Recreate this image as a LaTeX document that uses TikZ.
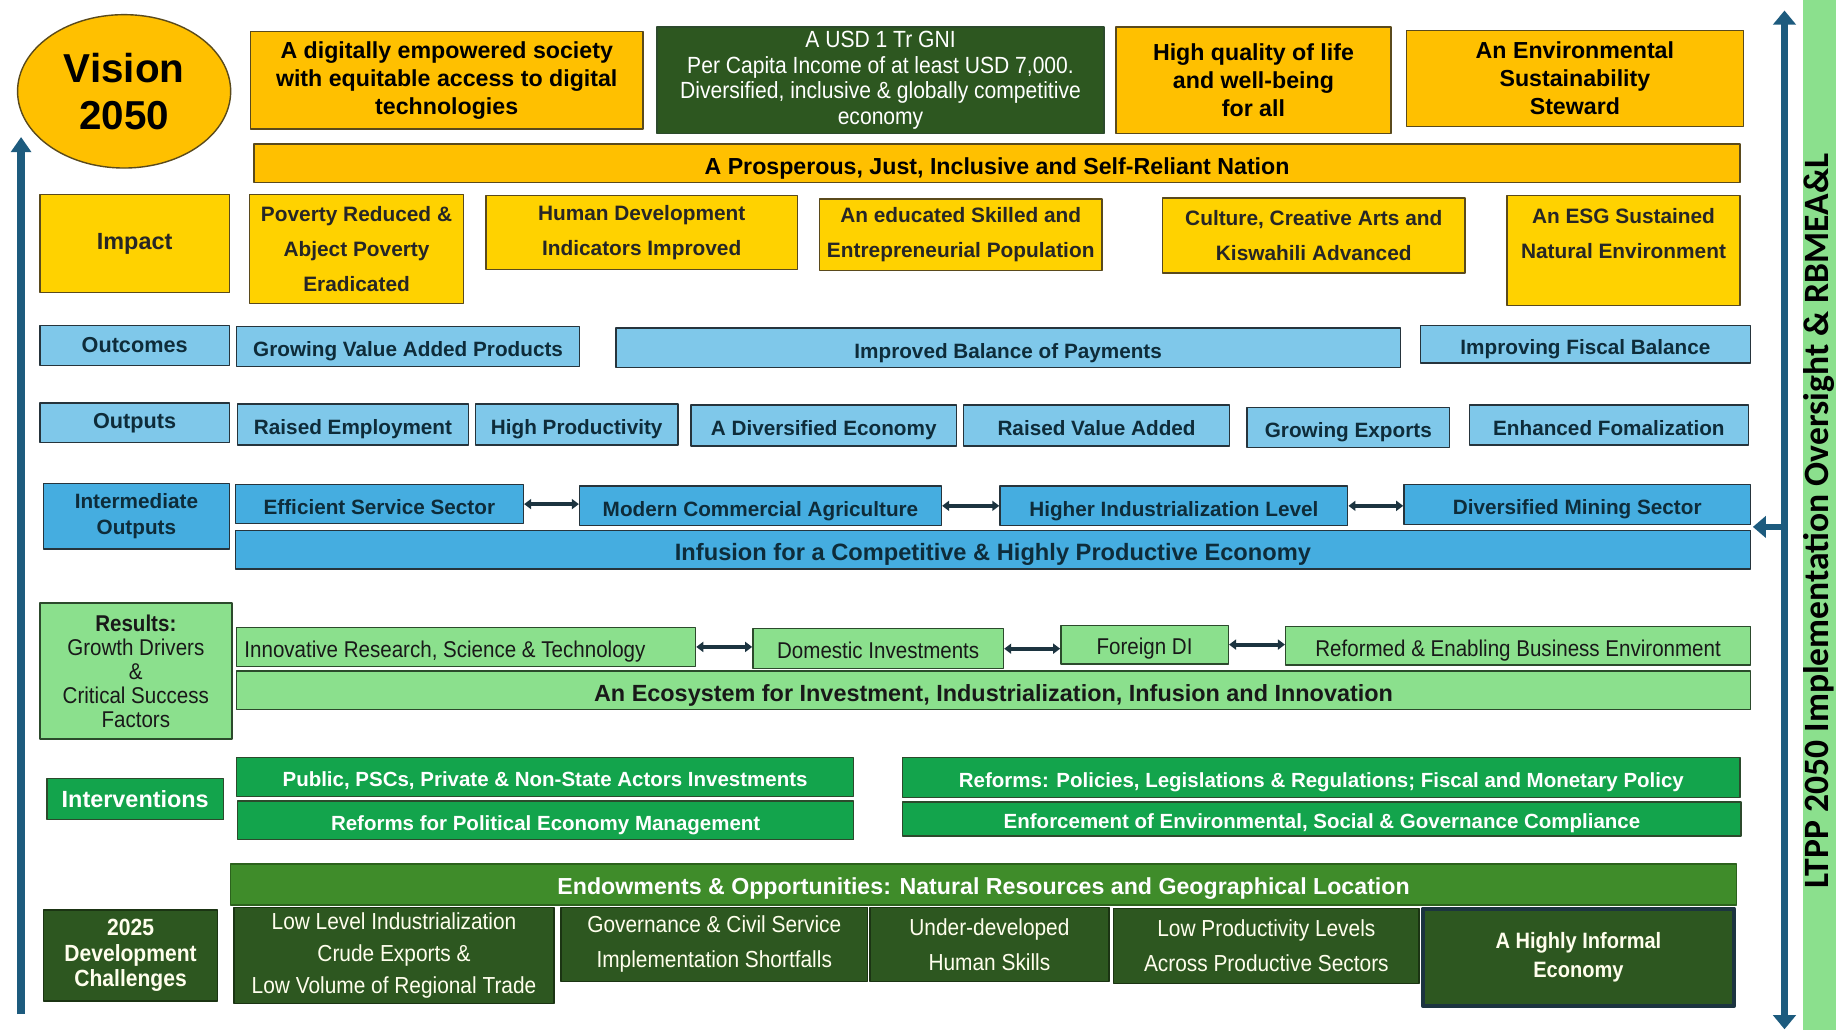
\documentclass[tikz,border=0pt]{standalone}
\usepackage{fontspec}
\setmainfont{Liberation Sans}
\newfontfamily\narrow[FakeStretch=0.9]{Liberation Sans}
\newfontfamily\calib{Carlito}
\usetikzlibrary{arrows.meta}
\usetikzlibrary{shapes.geometric}

\definecolor{gold}{HTML}{FFC000}
\definecolor{yel}{HTML}{FFD200}
\definecolor{goldline}{HTML}{5A4A1C}
\definecolor{lblue}{HTML}{7FC8EA}
\definecolor{mblue}{HTML}{45ADE0}
\definecolor{blueline}{HTML}{26343C}
\definecolor{bluetext}{HTML}{0E2C3A}
\definecolor{lgreen}{HTML}{8BE08D}
\definecolor{mgreen}{HTML}{13A44C}
\definecolor{egreen}{HTML}{3F8C2A}
\definecolor{dgreen}{HTML}{2D5720}
\definecolor{greenline}{HTML}{2C4A2C}
\definecolor{arrowblue}{HTML}{1D5B7E}
\definecolor{linkdark}{HTML}{1C3440}

\tikzset{
  base/.style={rectangle, draw, line width=1.2pt, align=center, inner sep=1pt},
  sink/.style={text height=17.5pt, text depth=0pt},
  visio/.style={ellipse, draw=goldline, fill=gold, line width=1.2pt, align=center,
    font=\fontsize{34.5}{40}\selectfont\bfseries, minimum width=182, minimum height=131},
  gold/.style={base, draw=goldline, fill=gold, font=\fontsize{19.8}{24}\selectfont\bfseries},
  dkgold/.style={base, draw=greenline, fill=dgreen, text=white, font=\narrow\fontsize{20}{22}\selectfont},
  yel/.style={base, draw=goldline, fill=yel, text=black!85, font=\fontsize{17.8}{30}\selectfont\bfseries},
  lblue/.style={base, draw=blueline, fill=lblue, text=bluetext, font=\fontsize{17.7}{22}\selectfont\bfseries},
  mblue/.style={base, draw=blueline, fill=mblue, text=bluetext, font=\fontsize{17.7}{22}\selectfont\bfseries},
  lgreen/.style={base, draw=greenline, fill=lgreen, text=black!90, font=\narrow\fontsize{19.5}{20.5}\selectfont},
  mgreen/.style={base, draw=greenline, fill=mgreen, text=white, font=\fontsize{17.5}{22}\selectfont\bfseries},
  egreen/.style={base, draw=egreen!70!black, fill=egreen, text=white, font=\fontsize{19.8}{22}\selectfont\bfseries},
  dgreen/.style={base, draw=dgreen!60!black, fill=dgreen, text=white!93!yellow, font=\narrow\fontsize{19.8}{27}\selectfont},
  informal/.style={draw=linkdark, line width=3.5pt},
  link/.style={draw=linkdark, line width=3.5pt, {Triangle[length=6pt,width=8.5pt]}-{Triangle[length=6pt,width=8.5pt]}},
  spine/.style={draw=arrowblue, line width=6.5pt},
}

% box from its corners: style, name, x1, y1, x2, y2, text
\newcommand{\bx}[7]{\node[#1, minimum width={#5-#3}, minimum height={#6-#4}] (#2) at ({(#3+#5)/2},{(#4+#6)/2}) {#7};}

\begin{document}
\begin{tikzpicture}[x=1pt,y=-1pt,line join=round]
\useasboundingbox (0,0) rectangle (1568,879);
%
% side strip
\node[fill=lgreen, minimum width=60, minimum height=890] (strip) at (1570,444) {};
\node[rotate=90, anchor=base, font=\calib\fontsize{30.4}{32}\selectfont\bfseries] (ltpp) at (1562,445)
  {LTPP 2050 Implementation  Oversight \& RBMEA\&L};
%
% vision
\node[visio] (vision) at (106,78) {Vision\\2050};
\bx{gold}{dig}{214}{27}{549}{110}{A digitally  empowered society\\with equitable access to digital\\technologies}
\bx{dkgold}{gni}{561}{23}{943}{114}{A USD 1 Tr GNI\\Per Capita Income of at least USD 7,000.\\Diversified, inclusive \& globally  competitive\\economy}
\bx{gold}{life}{953}{23}{1188}{114}{High quality of life\\and well-being\\for all}
\bx{gold}{env}{1201}{26}{1489}{108}{An Environmental\\Sustainability\\Steward}
\bx{gold, sink, text height=19pt}{nation}{217}{123}{1486}{156}{A Prosperous, Just, Inclusive and Self-Reliant Nation}
%
% impact
\bx{yel, font=\fontsize{20}{30}\selectfont\bfseries}{impact}{34}{166}{196}{250}{Impact}
\bx{yel}{pov}{213}{166}{396}{259}{Poverty Reduced \&\\Abject Poverty\\Eradicated}
\bx{yel}{hdi}{415}{167}{681}{230}{Human Development\\Indicators Improved}
\bx{yel}{edu}{700}{170}{941}{231}{An educated Skilled and\\Entrepreneurial Population}
\bx{yel}{cul}{993}{169}{1251}{233}{Culture, Creative Arts and\\Kiswahili Advanced}
\bx{yel}{esgenv}{1287}{167}{1486}{261}{An ESG  Sustained\\Natural Environment\\~}
%
% outcomes
\bx{lblue, font=\fontsize{18.5}{22}\selectfont\bfseries}{outc}{34}{278}{196}{312}{Outcomes}
\bx{lblue, sink}{gvap}{202}{279}{495}{313}{Growing Value Added Products}
\bx{lblue, sink}{bop}{526}{280}{1196}{314}{Improved Balance of Payments}
\bx{lblue, sink}{fisc}{1213}{278}{1495}{310}{Improving Fiscal Balance}
%
% outputs
\bx{lblue, font=\fontsize{18.5}{22}\selectfont\bfseries}{outp}{34}{344}{196}{378}{Outputs}
\bx{lblue, sink}{emp}{203}{345}{400}{380}{Raised Employment}
\bx{lblue, sink}{prod}{406}{345}{579}{380}{High Productivity}
\bx{lblue, sink}{divec}{590}{346}{817}{381}{A Diversified Economy}
\bx{lblue, sink}{rva}{823}{346}{1050}{381}{Raised Value Added}
\bx{lblue, sink}{expo}{1065}{348}{1238}{382}{Growing Exports}
\bx{lblue, sink}{formal}{1255}{346}{1493}{380}{Enhanced Fomalization}
%
% intermediate outputs
\bx{mblue}{inter}{37}{413}{196}{469}{Intermediate\\Outputs}
\bx{mblue, sink}{serv}{201}{414}{447}{447}{Efficient Service Sector}
\bx{mblue, sink}{agri}{495}{415}{804}{449}{Modern Commercial Agriculture}
\bx{mblue, sink}{indu}{854}{415}{1151}{449}{Higher Industrialization Level}
\bx{mblue, sink}{mine}{1199}{414}{1495}{448}{Diversified Mining Sector}
\bx{mblue, sink, text height=19pt, font=\fontsize{20.2}{22}\selectfont\bfseries}{infus}{201}{453}{1495}{486}{Infusion for a Competitive \&  Highly Productive Economy}
\draw[link] (serv.east) -- (agri.west |- serv.east);
\draw[link] (agri.east) -- (indu.west |- agri.east);
\draw[link] (indu.east) -- (mine.west |- indu.east);
%
% results
\bx{lgreen}{res}{34}{515}{198}{631}{\textbf{Results:}\\Growth Drivers\\\&\\Critical Success\\Factors}
\bx{lgreen, sink}{innov}{202}{536}{594}{569}{Innovative Research,  Science \& Technology\kern36pt}
\bx{lgreen, sink}{dom}{643}{537}{857}{571}{Domestic  Investments}
\bx{lgreen, sink}{fdi}{906}{534}{1049}{567}{Foreign DI}
\bx{lgreen, sink}{benv}{1098}{535}{1495}{568}{Reformed \& Enabling  Business  Environment}
\bx{lgreen, sink, text height=19pt, font=\fontsize{20}{22}\selectfont\bfseries}{eco}{202}{573}{1495}{606}{An Ecosystem for Investment,  Industrialization,  Infusion and Innovation}
\draw[link] (innov.east) -- (dom.west |- innov.east);
\draw[link] (dom.east) -- (fdi.west |- dom.east);
\draw[link] (fdi.east) -- (benv.west |- fdi.east);
%
% interventions
\bx{mgreen, font=\fontsize{20}{22}\selectfont\bfseries}{intv}{40}{665}{191}{700}{Interventions}
\bx{mgreen, sink, text height=16.5pt}{pub}{202}{647}{729}{680}{Public, PSCs, Private \& Non-State Actors Investments}
\bx{mgreen, sink}{pol}{203}{684}{729}{717}{Reforms for Political Economy Management}
\bx{mgreen, sink}{reg}{771}{647}{1486}{681}{Reforms: Policies, Legislations \& Regulations; Fiscal and Monetary Policy}
\bx{mgreen, sink, text height=16pt}{enf}{771}{685}{1487}{714}{Enforcement of Environmental, Social \& Governance  Compliance}
%
% endowments and challenges
\bx{egreen, sink, text height=17pt}{endow}{197}{738}{1483}{773}{Endowments \& Opportunities:  Natural Resources and Geographical Location}
\bx{dgreen, font=\narrow\fontsize{20}{22}\selectfont\bfseries}{chal}{37}{777}{186}{855}{2025\\Development\\Challenges}
\bx{dgreen}{lowind}{200}{775}{473}{857}{Low Level Industrialization\\Crude Exports  \&\\Low Volume of Regional Trade}
\bx{dgreen, font=\narrow\fontsize{19.8}{30}\selectfont}{gov}{479}{775}{741}{838}{Governance  \& Civil Service\\Implementation Shortfalls}
\bx{dgreen, font=\narrow\fontsize{19.8}{30}\selectfont}{hum}{743}{775}{947}{838}{Under-developed\\Human Skills}
\bx{dgreen, font=\narrow\fontsize{19.8}{30}\selectfont}{lowprod}{951}{776}{1212}{840}{Low  Productivity Levels\\Across  Productive Sectors}
\bx{dgreen, informal, font=\narrow\fontsize{19}{24}\selectfont\bfseries}{infor}{1215}{776}{1481}{859}{A Highly  Informal\\Economy}
%
% arrows
\coordinate (lbot) at (18,866);
\coordinate (ltop) at (18,117);
\draw[spine, -{Triangle[length=13pt,width=17pt]}] (lbot) -- (ltop);
\coordinate (rtop) at (1524,9);
\coordinate (rbot) at (1524,879);
\coordinate (rmid) at (1524,450);
\coordinate (rtip) at (1497,450);
\draw[spine, {Triangle[length=12pt,width=19pt]}-{Triangle[length=12pt,width=19pt]}] (rtop) -- (rbot);
\draw[spine, line width=5.5pt, -{Triangle[length=11pt,width=18pt]}] (rmid) -- (rtip);
\end{tikzpicture}
\end{document}
